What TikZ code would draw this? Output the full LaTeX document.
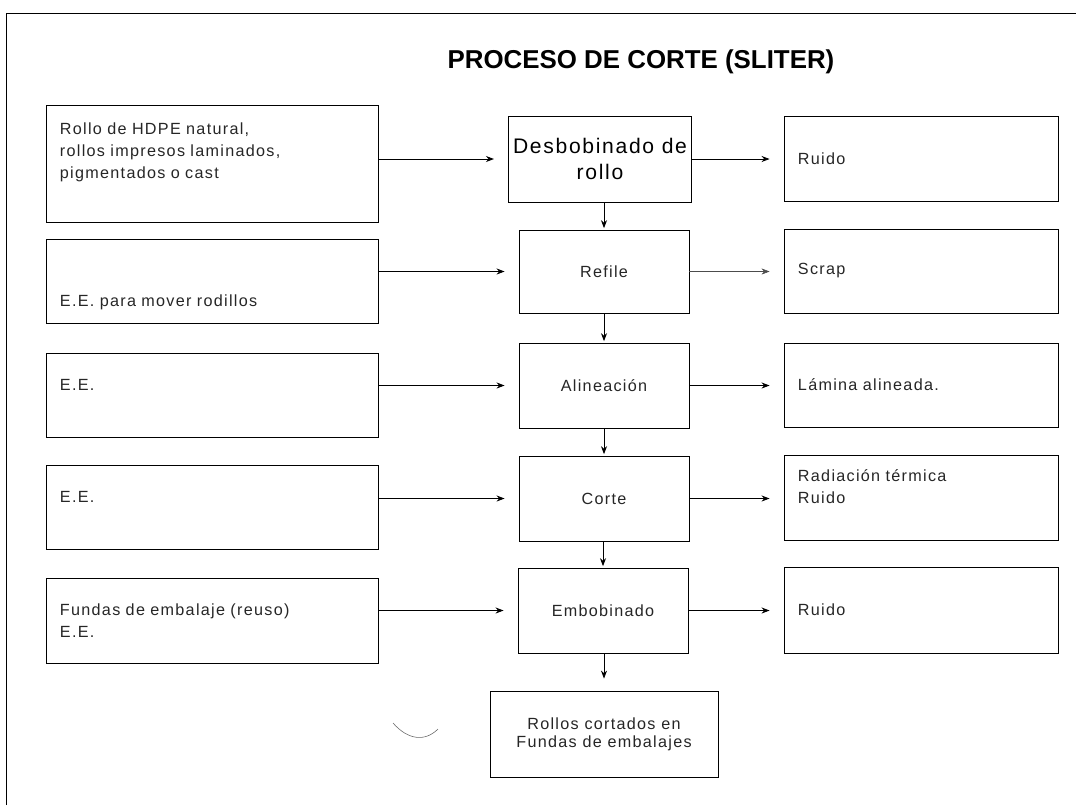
\documentclass[tikz,border=0pt]{standalone}
\usepackage{fontspec}
\setmainfont{Liberation Sans}[LetterSpace=8]
\newfontfamily\titular{Liberation Sans}
\usetikzlibrary{arrows.meta}

\tikzset{
  caja/.style={draw, line width=0.6pt, inner ysep=0pt, text=black!85},
  entrada/.style={caja, text width=7.6cm, inner xsep=0.35cm, align=left,
    font=\fontsize{11.5}{15.5}\selectfont},
  etapa/.style={caja, minimum width=4.25cm, minimum height=2.1cm, align=center,
    font=\fontsize{11.5}{15.5}\selectfont},
  salida/.style={caja, text width=6.15cm, inner xsep=0.35cm, minimum height=2.125cm,
    align=left, font=\fontsize{11.5}{15.5}\selectfont},
  flecha/.style={line width=0.6pt, -{Stealth[length=5.7pt,width=4.3pt]}},
}

\begin{document}
\begin{tikzpicture}[x=0.025cm,y=-0.025cm]
        \useasboundingbox (0,0) rectangle (1076,805);
        % marco
        \draw[line width=0.6pt] (6,805) -- (6,13) -- (1076,13);
        \node[font=\titular\fontsize{18.4}{22}\selectfont\bfseries] (titulo) at (641,62) {PROCESO DE CORTE (SLITER)};
        % entradas
        \node[entrada, minimum height=2.925cm, text depth=49pt] (in1) at (212,163.5)
          {Rollo de HDPE natural,\\ rollos impresos laminados,\\ pigmentados o cast};
        \node[entrada, minimum height=2.1cm, text height=38pt] (in2) at (212,281) {E.E. para mover rodillos};
        \node[entrada, minimum height=2.1cm, text depth=14pt] (in3) at (212,395) {E.E.};
        \node[entrada, minimum height=2.1cm, text depth=14pt] (in4) at (212,507) {E.E.};
        \node[entrada, minimum height=2.125cm] (in5) at (212,620.5) {Fundas de embalaje (reuso)\\ E.E.};
        % etapas
        \node[etapa, minimum width=4.5cm, minimum height=2.15cm, text=black, font=\fontsize{15}{18.5}\selectfont] (desb) at (600,159)
          {Desbobinado de\\ rollo};
        \node[etapa, minimum height=2.075cm] (refile) at (604,271.5) {Refile};
        \node[etapa, minimum height=2.125cm] (alin) at (604,385.5) {Alineaci\'on};
        \node[etapa, minimum height=2.125cm] (corte) at (604,498.5) {Corte};
        \node[etapa, minimum height=2.125cm] (embob) at (603,610.5) {Embobinado};
        \node[etapa, minimum width=5.7cm, minimum height=2.15cm, font=\fontsize{11.5}{13}\selectfont] (rollos) at (604,734)
          {Rollos cortados en\\ Fundas de embalajes};
        % salidas
        \node[salida] (out1) at (921,158.5) {Ruido};
        \node[salida, minimum height=2.1cm] (out2) at (921,271) {Scrap};
        \node[salida, minimum height=2.1cm] (out3) at (921,385) {L\'amina alineada.};
        \node[salida, text depth=31pt] (out4) at (921,497.5) {Radiaci\'on t\'ermica\\ Ruido};
        \node[salida, minimum height=2.15cm] (out5) at (921,610) {Ruido};
        % flechas de entrada
        \draw[flecha, shorten >=0.35cm] (in1.east |- desb.west) -- (desb.west);
        \draw[flecha, shorten >=0.35cm] (in2.east |- refile.west) -- (refile.west);
        \draw[flecha, shorten >=0.35cm] (in3.east |- alin.west) -- (alin.west);
        \draw[flecha, shorten >=0.35cm] (in4.east |- corte.west) -- (corte.west);
        \draw[flecha, shorten >=0.35cm] (in5.east |- embob.west) -- (embob.west);
        % flechas del proceso
        \draw[flecha, shorten >=1pt] (desb.south -| refile.north) -- (refile.north);
        \draw[flecha, shorten >=1pt] (refile.south) -- (alin.north);
        \draw[flecha, shorten >=1pt] (alin.south) -- (corte.north);
        \draw[flecha, shorten >=1pt] (corte.south -| embob.north) -- (embob.north);
        \draw[flecha, shorten >=0.3cm] (embob.south -| rollos.north) -- (rollos.north);
        % flechas de salida
        \draw[flecha, shorten >=0.35cm] (desb.east) -- (desb.east -| out1.west);
        \draw[flecha, line width=0.4pt, black!70, shorten >=0.35cm] (refile.east) -- (refile.east -| out2.west);
        \draw[flecha, shorten >=0.35cm] (alin.east) -- (alin.east -| out3.west);
        \draw[flecha, shorten >=0.35cm] (corte.east) -- (corte.east -| out4.west);
        \draw[flecha, shorten >=0.35cm] (embob.east) -- (embob.east -| out5.west);
        % trazo suelto
        \draw[black!60, line width=0.4pt] (393,723) .. controls (408,740) and (425,742) .. (438,729);
\end{tikzpicture}
\end{document}
